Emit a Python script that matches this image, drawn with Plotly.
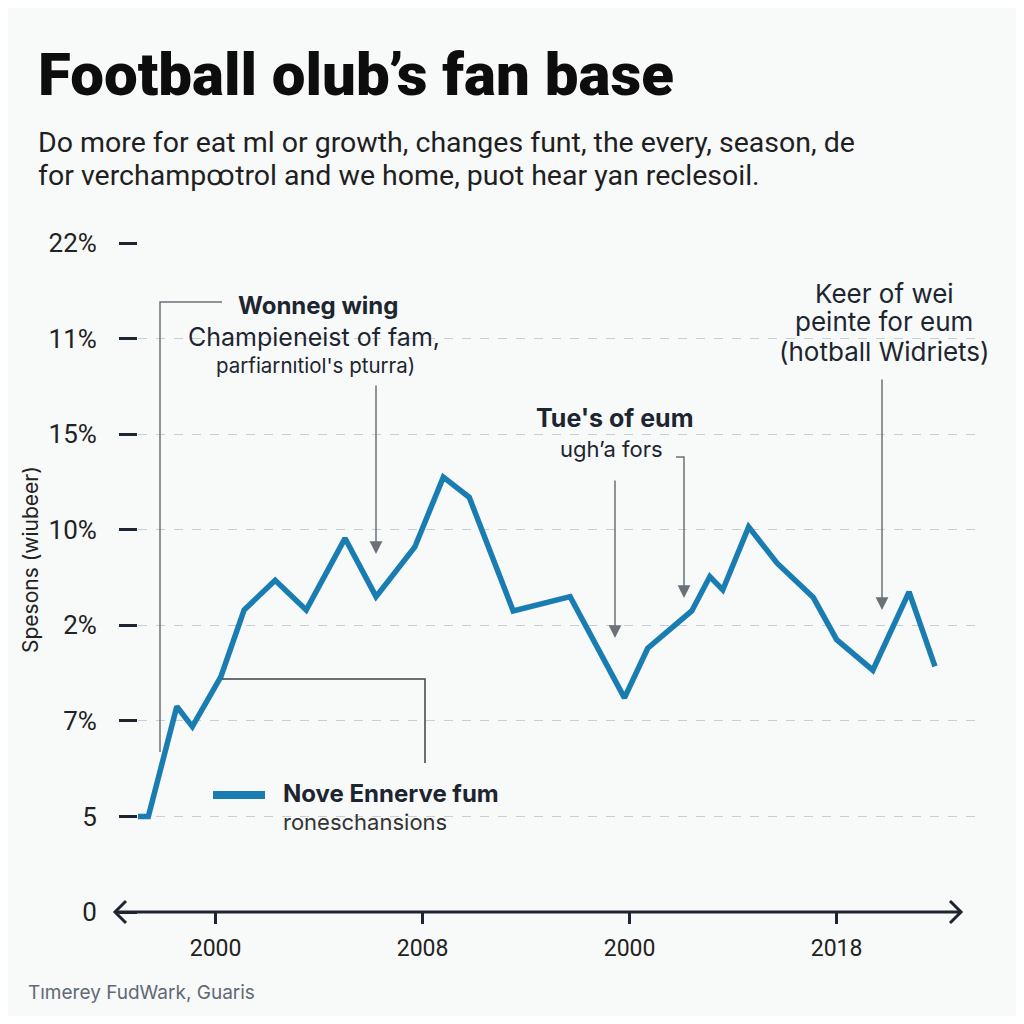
import plotly.graph_objects as go

# ---------------- data ----------------
years = [1997.0, 1997.4, 1998.5, 1999.1, 2000.2, 2001.1, 2002.3, 2003.5, 2005.0, 2006.2,
         2007.7, 2008.8, 2009.8, 2011.5, 2013.7, 2015.8, 2016.7, 2018.4, 2019.1, 2019.6,
         2020.6, 2021.7, 2023.1, 2024.0, 2025.4, 2026.8, 2027.8]
fans = [1.00, 1.00, 2.15, 1.94, 2.46, 3.16, 3.47, 3.16, 3.91, 3.30,
        3.82, 4.55, 4.34, 3.15, 3.30, 2.24, 2.76, 3.15, 3.51, 3.37,
        4.03, 3.65, 3.29, 2.85, 2.53, 3.35, 2.57]

x_tickvals = [2000, 2008, 2016, 2024]
x_ticktext = ["2000", "2008", "2000", "2018"]
y_tickvals = [0, 1, 2, 3, 4, 5, 6, 7]
y_ticktext = ["0", "5", "7%", "2%", "10%", "15%", "11%", "22%"]

# ---------------- layout constants ----------------
OFF = 8                      # browser body margin
W, H = 1024 - 2 * OFF, 1024 - 2 * OFF
L, R, T, B = 138, 975, 243, 912   # plot area in page pixels
BG = "#f8f9f9"
DARK = "#1c2530"
GRAY = "#6b7177"
BLUE = "#1a7db1"
FONT = "Roboto"
NOTE = "Inter"


def pxx(x):
    return (x - L) / (R - L)


def pxy(y):
    return (B - y) / (B - T)


fig = go.Figure()
fig.add_trace(go.Scatter(x=years, y=fans, mode="lines",
                         line=dict(color=BLUE, width=5.5),
                         cliponaxis=False, hoverinfo="skip", showlegend=False))

shapes = []
# hide gridline behind legend block
shapes.append(dict(type="rect", xref="paper", yref="paper", layer="between",
                   x0=pxx(206), x1=pxx(507), y0=pxy(840), y1=pxy(775),
                   fillcolor=BG, line=dict(width=0)))
# x axis line with chevrons
shapes.append(dict(type="line", xref="paper", yref="paper", x0=pxx(115), x1=pxx(961),
                   y0=pxy(912), y1=pxy(912), line=dict(color=DARK, width=3)))
shapes.append(dict(type="path", xref="paper", yref="paper",
                   path=f"M{pxx(126)},{pxy(901)} L{pxx(115)},{pxy(912)} L{pxx(126)},{pxy(923)}",
                   line=dict(color=DARK, width=3)))
shapes.append(dict(type="path", xref="paper", yref="paper",
                   path=f"M{pxx(950)},{pxy(901)} L{pxx(961)},{pxy(912)} L{pxx(950)},{pxy(923)}",
                   line=dict(color=DARK, width=3)))
# upper-left bracket
shapes.append(dict(type="path", xref="paper", yref="paper",
                   path=f"M{pxx(222)},{pxy(302)} L{pxx(160)},{pxy(302)} L{pxx(160)},{pxy(752)}",
                   line=dict(color=GRAY, width=1.5)))
# lower bracket
shapes.append(dict(type="path", xref="paper", yref="paper",
                   path=f"M{pxx(222)},{pxy(679)} L{pxx(425)},{pxy(679)} L{pxx(425)},{pxy(763)}",
                   line=dict(color="#3d434a", width=1.5)))
# small hook for second arrow of middle note
shapes.append(dict(type="path", xref="paper", yref="paper",
                   path=f"M{pxx(676)},{pxy(457)} L{pxx(684)},{pxy(457)} L{pxx(684)},{pxy(590)}",
                   line=dict(color=GRAY, width=1.5)))
# legend swatch
shapes.append(dict(type="line", xref="paper", yref="paper", x0=pxx(213), x1=pxx(265),
                   y0=pxy(795), y1=pxy(795), line=dict(color=BLUE, width=8)))

annotations = []


def txt(text, x, y, size, color="#1c2530", weight=400, xanchor="center", family=NOTE, angle=0):
    annotations.append(dict(text=text, x=pxx(x), y=pxy(y), xref="paper", yref="paper",
                            xanchor=xanchor, yanchor="middle", showarrow=False, textangle=angle,
                            font=dict(family=family, size=size, color=color, weight=weight)))


def arrow(x, y_tail, y_tip):
    annotations.append(dict(text="", x=pxx(x), y=pxy(y_tip), xref="paper", yref="paper",
                            ax=0, ay=y_tail - y_tip, showarrow=True, arrowhead=2,
                            arrowsize=1.7, arrowwidth=1.5, arrowcolor=GRAY, standoff=0))


# title & subtitle
txt("Football olub’s fan base", 36, 75, 60, color="#0d0d0d", weight=900, xanchor="left", family=FONT)
txt("Do more for eat ml or growth, changes funt, the every, season, de", 36, 142, 28.5,
    color="#1f1f1f", xanchor="left", family=FONT)
txt("for verchampꝏtrol and we home, puot hear yan reclesoil.", 36, 175, 28.5,
    color="#1f1f1f", xanchor="left", family=FONT)

# y axis title
txt("Spesons (wiubeer)", 30, 560, 21, color="#222", angle=-90)

# note 1
txt("Wonneg wing", 318, 305, 24, weight=700)
txt("Champieneist of fam,", 314, 337, 25)
txt("parfiarnıtiol's pturra)", 315, 365, 20.5)
arrow(376, 384, 554)

# note 2
txt("Tue's of eum", 614, 418, 25, weight=700)
txt("ugh’a fors", 611, 449, 22)
arrow(615, 479, 638)
arrow(684, 585, 598)

# note 3
txt("Keer of wei", 884, 293, 26)
txt("peinte for eum", 884, 321, 26)
txt("(hotball Widriets)", 884, 351, 26)
arrow(882, 378, 610)

# legend text
txt("Nove Ennerve fum", 281, 793, 24, weight=700, xanchor="left")
txt("roneschansions", 281, 822, 22, color="#333", xanchor="left")

# footer
txt("Tımerey FudWark, Guaris", 26, 993, 19, color="#5f6a75", xanchor="left")

fig.update_layout(
    width=W, height=H,
    margin=dict(l=L - OFF, r=(W + OFF) - R, t=T - OFF, b=(H + OFF) - B, pad=0),
    paper_bgcolor=BG, plot_bgcolor=BG,
    showlegend=False,
    shapes=shapes, annotations=annotations,
    font=dict(family=FONT, color="#222"),
    xaxis=dict(range=[1997.0, 1997.0 + (R - L) / 25.875], tickvals=x_tickvals, ticktext=x_ticktext,
               ticks="outside", ticklen=11, tickwidth=3, tickcolor=DARK,
               tickfont=dict(size=23, color="#222", family=FONT), ticklabelstandoff=4,
               showgrid=False, zeroline=False, showline=False, fixedrange=True),
    yaxis=dict(range=[0, 7], tickvals=y_tickvals, ticktext=y_ticktext,
               ticks="outside", ticklen=18, tickwidth=3, tickcolor=DARK,
               tickfont=dict(size=26, color="#222", family=FONT), ticklabelstandoff=17,
               showgrid=True, gridcolor="#c9ced3", gridwidth=1, griddash="dash",
               zeroline=False, showline=False, fixedrange=True),
)

fig.write_html("out.html")
